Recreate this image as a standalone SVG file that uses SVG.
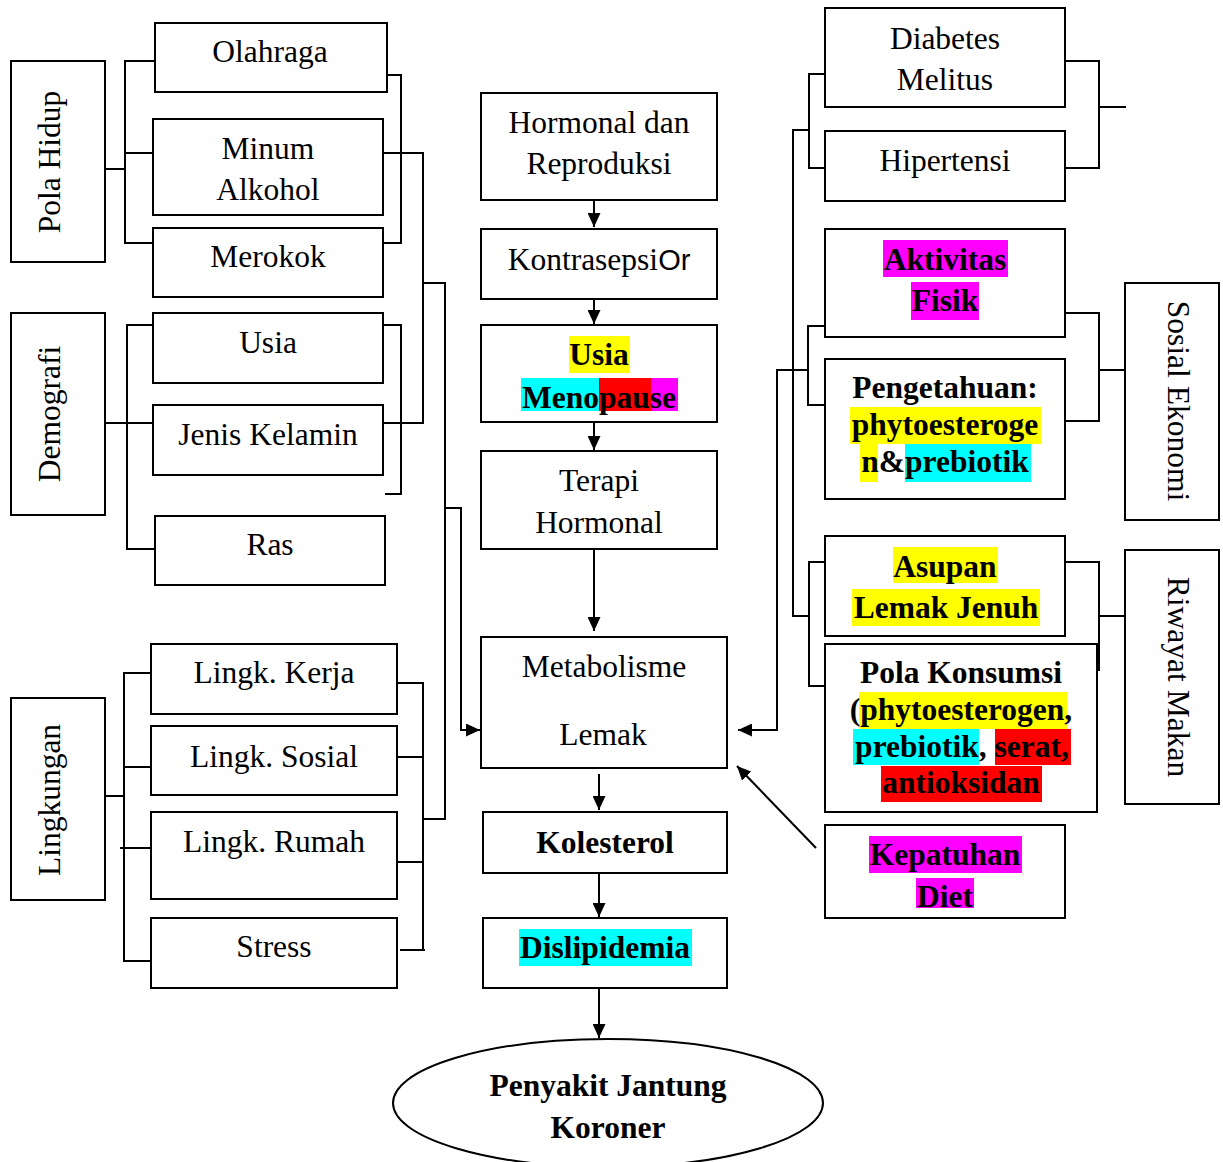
<svg xmlns="http://www.w3.org/2000/svg" width="1223" height="1162" viewBox="0 0 1223 1162">
<style>
.box{fill:#fff;stroke:#000;stroke-width:2}
.t{font-family:"Liberation Serif","Times New Roman",serif;font-size:31.5px;fill:#000;text-anchor:middle}
.b{font-weight:bold}
.c{fill:none;stroke:#000;stroke-width:2}
.y{fill:#ffff00}.cy{fill:#00ffff}.r{fill:#ff0000}.m{fill:#ff00ff}
</style>
<defs>
<marker id="ah" markerUnits="userSpaceOnUse" markerWidth="15" markerHeight="13" refX="14" refY="6.5" orient="auto">
<path d="M0,0 L14,6.5 L0,13 z" fill="#000"/>
</marker>
</defs>
<rect width="1223" height="1162" fill="#fff"/>

<g id="connectors" class="c">
<path d="M105,169 H125"/>
<path d="M155,61 H125 V243 H153"/>
<path d="M125,153 H153"/>
<path d="M387,75 H401 V243 H383"/>
<path d="M383,153 H423 V423 H383"/>
<path d="M423,283 H445 V819 H423"/>
<path d="M445,508 H461 V730 H480" marker-end="url(#ah)"/>
<path d="M105,423 H155"/>
<path d="M155,325 H127 V549 H155"/>
<path d="M383,325 H401 V494 H385"/>
<path d="M105,796 H125"/>
<path d="M153,673 H124 V961 H153"/>
<path d="M124,767 H153"/>
<path d="M120,848 H150"/>
<path d="M398,683 H423 V950"/>
<path d="M398,757 H423"/>
<path d="M398,862 H423"/>
<path d="M400,950 H425"/>
<path d="M594,200 V227" marker-end="url(#ah)"/>
<path d="M594,299 V324" marker-end="url(#ah)"/>
<path d="M594,422 V450" marker-end="url(#ah)"/>
<path d="M594,549 V631" marker-end="url(#ah)"/>
<path d="M599,774 V810" marker-end="url(#ah)"/>
<path d="M599,873 V917" marker-end="url(#ah)"/>
<path d="M599,988 V1038" marker-end="url(#ah)"/>
<path d="M825,74 H809 V168 H825"/>
<path d="M809,130 H793 V616 H809"/>
<path d="M825,562 H809 V686 H825"/>
<path d="M1065,61 H1099 V168 H1065"/>
<path d="M1099,107 H1126"/>
<path d="M1063,313 H1099 V421 H1063"/>
<path d="M1099,370 H1125"/>
<path d="M825,326 H808 V405 H825"/>
<path d="M808,370 H777 V730 H738" marker-end="url(#ah)"/>
<path d="M1065,562 H1099 V670 H1065"/>
<path d="M1099,616 H1125"/>
<path d="M816,848 L737,766" marker-end="url(#ah)"/>
</g>

<g id="pola-hidup"><rect class="box" x="11" y="61" width="94" height="201"/><text class="t" transform="translate(60,162) rotate(-90)">Pola Hidup</text></g>
<g id="olahraga"><rect class="box" x="155" y="23" width="232" height="69"/><text class="t" x="270" y="62">Olahraga</text></g>
<g id="minum-alkohol"><rect class="box" x="153" y="119" width="230" height="96"/><text class="t" x="268" y="159">Minum</text><text class="t" x="268" y="200">Alkohol</text></g>
<g id="merokok"><rect class="box" x="153" y="228" width="230" height="69"/><text class="t" x="268" y="267">Merokok</text></g>

<g id="demografi"><rect class="box" x="11" y="313" width="94" height="202"/><text class="t" transform="translate(60,414) rotate(-90)">Demografi</text></g>
<g id="usia"><rect class="box" x="153" y="313" width="230" height="70"/><text class="t" x="268" y="353">Usia</text></g>
<g id="jenis-kelamin"><rect class="box" x="153" y="405" width="230" height="70"/><text class="t" x="268" y="445">Jenis Kelamin</text></g>
<g id="ras"><rect class="box" x="155" y="516" width="230" height="69"/><text class="t" x="270" y="555">Ras</text></g>

<g id="lingkungan"><rect class="box" x="11" y="698" width="94" height="202"/><text class="t" transform="translate(60,800) rotate(-90)">Lingkungan</text></g>
<g id="lingk-kerja"><rect class="box" x="151" y="644" width="246" height="70"/><text class="t" x="274" y="683">Lingk. Kerja</text></g>
<g id="lingk-sosial"><rect class="box" x="151" y="726" width="246" height="69"/><text class="t" x="274" y="767">Lingk. Sosial</text></g>
<g id="lingk-rumah"><rect class="box" x="151" y="812" width="246" height="87"/><text class="t" x="274" y="852">Lingk. Rumah</text></g>
<g id="stress"><rect class="box" x="151" y="918" width="246" height="70"/><text class="t" x="274" y="957">Stress</text></g>

<g id="hormonal"><rect class="box" x="481" y="93" width="236" height="107"/><text class="t" x="599" y="133">Hormonal dan</text><text class="t" x="599" y="174">Reproduksi</text></g>
<g id="kontrasepsi"><rect class="box" x="481" y="229" width="236" height="70"/><text class="t" x="599" y="270">Kontrasepsi<tspan font-family="Liberation Sans, Arial, sans-serif" font-size="29">Or</tspan></text></g>
<g id="usia-menopause"><rect class="box" x="481" y="325" width="236" height="97"/>
<rect class="y" x="569" y="336" width="61" height="37"/>
<rect class="cy" x="521" y="378" width="78" height="33"/><rect class="r" x="599" y="378" width="52" height="33"/><rect class="m" x="651" y="378" width="27" height="33"/>
<text class="t b" x="599" y="365">Usia</text><text class="t b" x="599" y="408">Menopause</text></g>
<g id="terapi"><rect class="box" x="481" y="451" width="236" height="98"/><text class="t" x="599" y="491">Terapi</text><text class="t" x="599" y="533">Hormonal</text></g>
<g id="metabolisme"><rect class="box" x="481" y="637" width="246" height="131"/><text class="t" x="604" y="677">Metabolisme</text><text class="t" x="603" y="745">Lemak</text></g>
<g id="kolesterol"><rect class="box" x="483" y="812" width="244" height="61"/><text class="t b" x="605" y="853">Kolesterol</text></g>
<g id="dislipidemia"><rect class="box" x="483" y="918" width="244" height="70"/><rect class="cy" x="519" y="929" width="173" height="37"/><text class="t b" x="605" y="958">Dislipidemia</text></g>
<g id="pjk"><ellipse class="box" cx="608" cy="1103" rx="215" ry="64"/><text class="t b" x="608" y="1096" font-size="30.5">Penyakit Jantung</text><text class="t b" x="608" y="1138" font-size="30.5">Koroner</text></g>

<g id="diabetes"><rect class="box" x="825" y="8" width="240" height="99"/><text class="t" x="945" y="49">Diabetes</text><text class="t" x="945" y="90">Melitus</text></g>
<g id="hipertensi"><rect class="box" x="825" y="131" width="240" height="70"/><text class="t" x="945" y="171">Hipertensi</text></g>
<g id="aktivitas"><rect class="box" x="825" y="229" width="240" height="108"/><rect class="m" x="883" y="240" width="125" height="37"/><rect class="m" x="911" y="282" width="68" height="38"/><text class="t b" x="945" y="270">Aktivitas</text><text class="t b" x="945" y="311">Fisik</text></g>
<g id="pengetahuan"><rect class="box" x="825" y="359" width="240" height="140"/>
<rect class="y" x="850" y="407" width="191" height="37"/><rect class="y" x="860" y="444" width="18" height="38"/><rect class="cy" x="905" y="444" width="126" height="38"/>
<text class="t b" x="945" y="398">Pengetahuan:</text><text class="t b" x="945" y="435">phytoesteroge</text><text class="t b" x="945" y="472">n&amp;prebiotik</text></g>
<g id="sosial-ekonomi"><rect class="box" x="1125" y="283" width="94" height="237"/><text class="t" transform="translate(1168,401) rotate(90)">Sosial Ekonomi</text></g>
<g id="asupan"><rect class="box" x="825" y="536" width="240" height="100"/><rect class="y" x="893" y="547" width="105" height="36"/><rect class="y" x="852" y="589" width="188" height="37"/><text class="t b" x="945" y="577">Asupan</text><text class="t b" x="946" y="618">Lemak Jenuh</text></g>
<g id="pola-konsumsi"><rect class="box" x="825" y="644" width="272" height="168"/>
<rect class="y" x="859" y="692" width="208" height="37"/><rect class="cy" x="853" y="729" width="126" height="36"/><rect class="r" x="995" y="729" width="76" height="36"/><rect class="r" x="881" y="766" width="161" height="36"/>
<text class="t b" x="961" y="683">Pola Konsumsi</text><text class="t b" x="961" y="720">(phytoesterogen,</text><text class="t b" x="962" y="757">prebiotik, serat,</text><text class="t b" x="961" y="793">antioksidan</text></g>
<g id="riwayat-makan"><rect class="box" x="1125" y="550" width="94" height="254"/><text class="t" transform="translate(1168,677) rotate(90)">Riwayat Makan</text></g>
<g id="kepatuhan"><rect class="box" x="825" y="825" width="240" height="93"/><rect class="m" x="869" y="836" width="153" height="37"/><rect class="m" x="916" y="878" width="58" height="30"/><text class="t b" x="945" y="865">Kepatuhan</text><text class="t b" x="945" y="907">Diet</text></g>
</svg>
